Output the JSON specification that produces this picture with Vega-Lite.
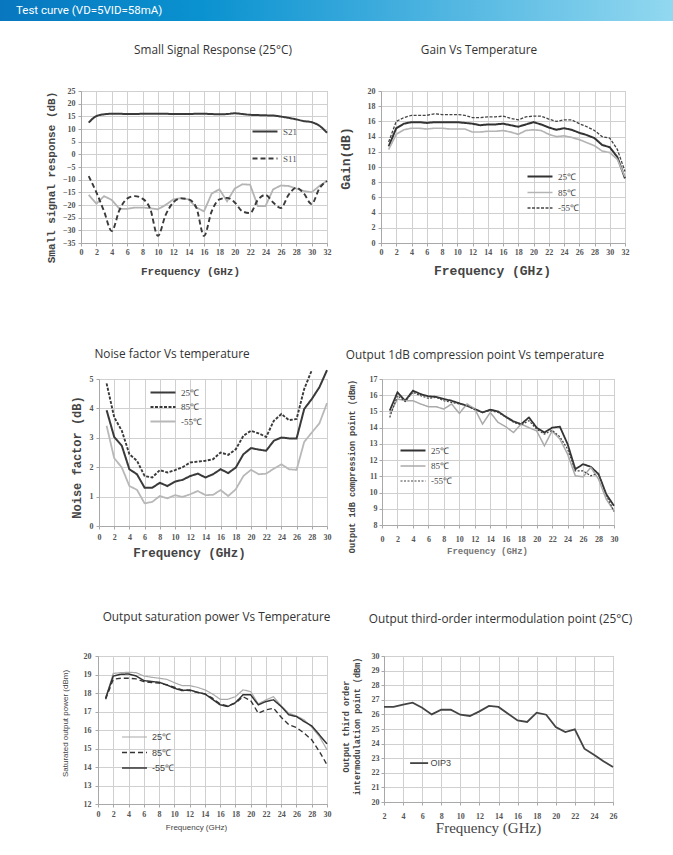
{
"$schema": "https://vega.github.io/schema/vega-lite/v6.json",
"padding": 0,
"background": "white",
"bounds": "flush",
"spacing": 70,
"resolve": {"scale": {"color": "independent", "strokeDash": "independent", "strokeWidth": "independent"}, "legend": {"color": "independent", "strokeDash": "independent", "strokeWidth": "independent"}},
"config": {
  "view": {"stroke": "#a8a8a8", "strokeWidth": 1},
  "axis": {"gridColor": "#d0d0d0", "gridWidth": 1, "domainColor": "#a8a8a8", "tickColor": "#a8a8a8", "tickSize": 3, "labelColor": "#555", "labelFont": "Liberation Serif", "labelFontWeight": "bold", "labelFontSize": 8, "titleColor": "#444", "titleFont": "Liberation Mono", "titleFontWeight": "bold", "labelOverlap": false, "labelFlush": false},
  "legend": {"orient": "none", "symbolType": "M-2,0H2", "symbolSize": 156, "labelFont": "Liberation Serif", "labelFontSize": 9, "labelColor": "#444", "labelOffset": 10.5, "padding": 0},
  "title": {"font": "Open Sans", "fontSize": 11.8, "fontWeight": "normal", "color": "#333", "frame": "group", "anchor": "middle"},
  "line": {"clip": true}
},
"datasets": {
"p1": [
{"f":1,"v":12.5,"s":"S21"},{"f":2,"v":15.1,"s":"S21"},{"f":3,"v":15.8,"s":"S21"},{"f":4,"v":16.0,"s":"S21"},{"f":5,"v":16.0,"s":"S21"},{"f":6,"v":15.9,"s":"S21"},{"f":7,"v":15.9,"s":"S21"},{"f":8,"v":16.0,"s":"S21"},{"f":9,"v":16.0,"s":"S21"},{"f":10,"v":16.0,"s":"S21"},{"f":11,"v":16.0,"s":"S21"},{"f":12,"v":15.9,"s":"S21"},{"f":13,"v":15.9,"s":"S21"},{"f":14,"v":15.9,"s":"S21"},{"f":15,"v":16.0,"s":"S21"},{"f":16,"v":16.0,"s":"S21"},{"f":17,"v":15.9,"s":"S21"},{"f":18,"v":15.8,"s":"S21"},{"f":19,"v":15.9,"s":"S21"},{"f":20,"v":16.2,"s":"S21"},{"f":21,"v":15.9,"s":"S21"},{"f":22,"v":15.6,"s":"S21"},{"f":23,"v":15.5,"s":"S21"},{"f":24,"v":15.4,"s":"S21"},{"f":25,"v":15.3,"s":"S21"},{"f":26,"v":14.9,"s":"S21"},{"f":27,"v":14.4,"s":"S21"},{"f":28,"v":13.8,"s":"S21"},{"f":29,"v":13.1,"s":"S21"},{"f":30,"v":12.7,"s":"S21"},{"f":31,"v":11.3,"s":"S21"},{"f":32,"v":8.5,"s":"S21"},
{"f":1,"v":-8.6,"s":"S11"},{"f":2,"v":-15,"s":"S11"},{"f":3,"v":-22.5,"s":"S11"},{"f":4,"v":-30.3,"s":"S11"},{"f":5,"v":-22,"s":"S11"},{"f":6,"v":-17.5,"s":"S11"},{"f":7,"v":-16.5,"s":"S11"},{"f":8,"v":-17.5,"s":"S11"},{"f":9,"v":-21.5,"s":"S11"},{"f":10,"v":-32.2,"s":"S11"},{"f":11,"v":-24,"s":"S11"},{"f":12,"v":-19,"s":"S11"},{"f":13,"v":-17.4,"s":"S11"},{"f":14,"v":-17.8,"s":"S11"},{"f":15,"v":-21,"s":"S11"},{"f":16,"v":-32.2,"s":"S11"},{"f":17,"v":-22.5,"s":"S11"},{"f":18,"v":-17.8,"s":"S11"},{"f":19,"v":-17.2,"s":"S11"},{"f":20,"v":-19,"s":"S11"},{"f":21,"v":-22.5,"s":"S11"},{"f":22,"v":-23.2,"s":"S11"},{"f":23,"v":-18,"s":"S11"},{"f":24,"v":-16,"s":"S11"},{"f":25,"v":-19,"s":"S11"},{"f":26,"v":-21.2,"s":"S11"},{"f":27,"v":-16,"s":"S11"},{"f":28,"v":-13.2,"s":"S11"},{"f":29,"v":-15.5,"s":"S11"},{"f":30,"v":-19.6,"s":"S11"},{"f":31,"v":-13.5,"s":"S11"},{"f":32,"v":-10.5,"s":"S11"},
{"f":1,"v":-16,"s":"S22"},{"f":2,"v":-19.5,"s":"S22"},{"f":3,"v":-16.5,"s":"S22"},{"f":4,"v":-18,"s":"S22"},{"f":5,"v":-21.5,"s":"S22"},{"f":6,"v":-21.5,"s":"S22"},{"f":7,"v":-21,"s":"S22"},{"f":8,"v":-21,"s":"S22"},{"f":9,"v":-21.3,"s":"S22"},{"f":10,"v":-21.7,"s":"S22"},{"f":11,"v":-20,"s":"S22"},{"f":12,"v":-17.8,"s":"S22"},{"f":13,"v":-17.3,"s":"S22"},{"f":14,"v":-17.8,"s":"S22"},{"f":15,"v":-21,"s":"S22"},{"f":16,"v":-22.5,"s":"S22"},{"f":17,"v":-15.5,"s":"S22"},{"f":18,"v":-13.8,"s":"S22"},{"f":19,"v":-18.5,"s":"S22"},{"f":20,"v":-13.5,"s":"S22"},{"f":21,"v":-11.8,"s":"S22"},{"f":22,"v":-12,"s":"S22"},{"f":23,"v":-20.4,"s":"S22"},{"f":24,"v":-20.4,"s":"S22"},{"f":25,"v":-13.8,"s":"S22"},{"f":26,"v":-12.3,"s":"S22"},{"f":27,"v":-12.5,"s":"S22"},{"f":28,"v":-13.5,"s":"S22"},{"f":29,"v":-14.5,"s":"S22"},{"f":30,"v":-15,"s":"S22"},{"f":31,"v":-12.5,"s":"S22"},{"f":32,"v":-10.5,"s":"S22"}
],
"p2": [
{"f":1,"v":12.7,"s":"25℃"},{"f":2,"v":15.1,"s":"25℃"},{"f":3,"v":15.7,"s":"25℃"},{"f":4,"v":15.9,"s":"25℃"},{"f":5,"v":15.9,"s":"25℃"},{"f":6,"v":15.8,"s":"25℃"},{"f":7,"v":15.9,"s":"25℃"},{"f":8,"v":15.9,"s":"25℃"},{"f":9,"v":15.9,"s":"25℃"},{"f":10,"v":15.9,"s":"25℃"},{"f":11,"v":15.8,"s":"25℃"},{"f":12,"v":15.7,"s":"25℃"},{"f":13,"v":15.5,"s":"25℃"},{"f":14,"v":15.6,"s":"25℃"},{"f":15,"v":15.6,"s":"25℃"},{"f":16,"v":15.7,"s":"25℃"},{"f":17,"v":15.5,"s":"25℃"},{"f":18,"v":15.3,"s":"25℃"},{"f":19,"v":15.6,"s":"25℃"},{"f":20,"v":15.9,"s":"25℃"},{"f":21,"v":15.6,"s":"25℃"},{"f":22,"v":15.2,"s":"25℃"},{"f":23,"v":14.9,"s":"25℃"},{"f":24,"v":15.1,"s":"25℃"},{"f":25,"v":14.9,"s":"25℃"},{"f":26,"v":14.5,"s":"25℃"},{"f":27,"v":14.2,"s":"25℃"},{"f":28,"v":13.8,"s":"25℃"},{"f":29,"v":12.9,"s":"25℃"},{"f":30,"v":12.6,"s":"25℃"},{"f":31,"v":11.3,"s":"25℃"},{"f":32,"v":8.5,"s":"25℃"},
{"f":1,"v":12.3,"s":"85℃"},{"f":2,"v":14.3,"s":"85℃"},{"f":3,"v":14.9,"s":"85℃"},{"f":4,"v":15.1,"s":"85℃"},{"f":5,"v":15.1,"s":"85℃"},{"f":6,"v":15.0,"s":"85℃"},{"f":7,"v":15.1,"s":"85℃"},{"f":8,"v":15.1,"s":"85℃"},{"f":9,"v":15.0,"s":"85℃"},{"f":10,"v":15.0,"s":"85℃"},{"f":11,"v":15.0,"s":"85℃"},{"f":12,"v":14.6,"s":"85℃"},{"f":13,"v":14.6,"s":"85℃"},{"f":14,"v":14.7,"s":"85℃"},{"f":15,"v":14.7,"s":"85℃"},{"f":16,"v":14.8,"s":"85℃"},{"f":17,"v":14.6,"s":"85℃"},{"f":18,"v":14.3,"s":"85℃"},{"f":19,"v":14.8,"s":"85℃"},{"f":20,"v":14.9,"s":"85℃"},{"f":21,"v":14.8,"s":"85℃"},{"f":22,"v":14.3,"s":"85℃"},{"f":23,"v":14.0,"s":"85℃"},{"f":24,"v":14.1,"s":"85℃"},{"f":25,"v":13.9,"s":"85℃"},{"f":26,"v":13.6,"s":"85℃"},{"f":27,"v":13.2,"s":"85℃"},{"f":28,"v":12.8,"s":"85℃"},{"f":29,"v":12.1,"s":"85℃"},{"f":30,"v":11.9,"s":"85℃"},{"f":31,"v":11.0,"s":"85℃"},{"f":32,"v":8.7,"s":"85℃"},
{"f":1,"v":13.3,"s":"-55℃"},{"f":2,"v":16.0,"s":"-55℃"},{"f":3,"v":16.5,"s":"-55℃"},{"f":4,"v":16.8,"s":"-55℃"},{"f":5,"v":16.8,"s":"-55℃"},{"f":6,"v":16.8,"s":"-55℃"},{"f":7,"v":17.0,"s":"-55℃"},{"f":8,"v":16.9,"s":"-55℃"},{"f":9,"v":16.9,"s":"-55℃"},{"f":10,"v":16.9,"s":"-55℃"},{"f":11,"v":16.8,"s":"-55℃"},{"f":12,"v":16.5,"s":"-55℃"},{"f":13,"v":16.5,"s":"-55℃"},{"f":14,"v":16.6,"s":"-55℃"},{"f":15,"v":16.6,"s":"-55℃"},{"f":16,"v":16.7,"s":"-55℃"},{"f":17,"v":16.4,"s":"-55℃"},{"f":18,"v":16.2,"s":"-55℃"},{"f":19,"v":16.6,"s":"-55℃"},{"f":20,"v":16.7,"s":"-55℃"},{"f":21,"v":16.7,"s":"-55℃"},{"f":22,"v":16.3,"s":"-55℃"},{"f":23,"v":16.0,"s":"-55℃"},{"f":24,"v":16.2,"s":"-55℃"},{"f":25,"v":16.2,"s":"-55℃"},{"f":26,"v":15.7,"s":"-55℃"},{"f":27,"v":15.3,"s":"-55℃"},{"f":28,"v":14.8,"s":"-55℃"},{"f":29,"v":14.0,"s":"-55℃"},{"f":30,"v":13.8,"s":"-55℃"},{"f":31,"v":12.3,"s":"-55℃"},{"f":32,"v":9.4,"s":"-55℃"}
],
"p3": [
{"f":1,"v":3.94,"s":"25℃"},{"f":2,"v":3.03,"s":"25℃"},{"f":3,"v":2.73,"s":"25℃"},{"f":4,"v":1.93,"s":"25℃"},{"f":5,"v":1.76,"s":"25℃"},{"f":6,"v":1.3,"s":"25℃"},{"f":7,"v":1.3,"s":"25℃"},{"f":8,"v":1.47,"s":"25℃"},{"f":9,"v":1.36,"s":"25℃"},{"f":10,"v":1.51,"s":"25℃"},{"f":11,"v":1.57,"s":"25℃"},{"f":12,"v":1.7,"s":"25℃"},{"f":13,"v":1.78,"s":"25℃"},{"f":14,"v":1.65,"s":"25℃"},{"f":15,"v":1.76,"s":"25℃"},{"f":16,"v":1.93,"s":"25℃"},{"f":17,"v":1.8,"s":"25℃"},{"f":18,"v":1.99,"s":"25℃"},{"f":19,"v":2.44,"s":"25℃"},{"f":20,"v":2.65,"s":"25℃"},{"f":21,"v":2.6,"s":"25℃"},{"f":22,"v":2.56,"s":"25℃"},{"f":23,"v":2.9,"s":"25℃"},{"f":24,"v":3.01,"s":"25℃"},{"f":25,"v":2.98,"s":"25℃"},{"f":26,"v":2.98,"s":"25℃"},{"f":27,"v":3.98,"s":"25℃"},{"f":28,"v":4.32,"s":"25℃"},{"f":29,"v":4.72,"s":"25℃"},{"f":30,"v":5.3,"s":"25℃"},
{"f":1,"v":4.85,"s":"85℃"},{"f":2,"v":3.7,"s":"85℃"},{"f":3,"v":3.24,"s":"85℃"},{"f":4,"v":2.44,"s":"85℃"},{"f":5,"v":2.22,"s":"85℃"},{"f":6,"v":1.7,"s":"85℃"},{"f":7,"v":1.65,"s":"85℃"},{"f":8,"v":1.9,"s":"85℃"},{"f":9,"v":1.82,"s":"85℃"},{"f":10,"v":1.9,"s":"85℃"},{"f":11,"v":2.0,"s":"85℃"},{"f":12,"v":2.16,"s":"85℃"},{"f":13,"v":2.19,"s":"85℃"},{"f":14,"v":2.22,"s":"85℃"},{"f":15,"v":2.27,"s":"85℃"},{"f":16,"v":2.5,"s":"85℃"},{"f":17,"v":2.42,"s":"85℃"},{"f":18,"v":2.61,"s":"85℃"},{"f":19,"v":3.07,"s":"85℃"},{"f":20,"v":3.24,"s":"85℃"},{"f":21,"v":3.15,"s":"85℃"},{"f":22,"v":3.03,"s":"85℃"},{"f":23,"v":3.58,"s":"85℃"},{"f":24,"v":3.81,"s":"85℃"},{"f":25,"v":3.6,"s":"85℃"},{"f":26,"v":3.64,"s":"85℃"},{"f":27,"v":4.66,"s":"85℃"},{"f":28,"v":5.3,"s":"85℃"},
{"f":1,"v":3.41,"s":"-55℃"},{"f":2,"v":2.31,"s":"-55℃"},{"f":3,"v":1.99,"s":"-55℃"},{"f":4,"v":1.36,"s":"-55℃"},{"f":5,"v":1.23,"s":"-55℃"},{"f":6,"v":0.77,"s":"-55℃"},{"f":7,"v":0.82,"s":"-55℃"},{"f":8,"v":1.02,"s":"-55℃"},{"f":9,"v":0.94,"s":"-55℃"},{"f":10,"v":1.05,"s":"-55℃"},{"f":11,"v":0.99,"s":"-55℃"},{"f":12,"v":1.08,"s":"-55℃"},{"f":13,"v":1.19,"s":"-55℃"},{"f":14,"v":1.05,"s":"-55℃"},{"f":15,"v":1.06,"s":"-55℃"},{"f":16,"v":1.22,"s":"-55℃"},{"f":17,"v":1.02,"s":"-55℃"},{"f":18,"v":1.25,"s":"-55℃"},{"f":19,"v":1.7,"s":"-55℃"},{"f":20,"v":1.91,"s":"-55℃"},{"f":21,"v":1.76,"s":"-55℃"},{"f":22,"v":1.78,"s":"-55℃"},{"f":23,"v":1.95,"s":"-55℃"},{"f":24,"v":2.1,"s":"-55℃"},{"f":25,"v":1.93,"s":"-55℃"},{"f":26,"v":1.91,"s":"-55℃"},{"f":27,"v":2.86,"s":"-55℃"},{"f":28,"v":3.18,"s":"-55℃"},{"f":29,"v":3.49,"s":"-55℃"},{"f":30,"v":4.18,"s":"-55℃"}
],
"p4": [
{"f":1,"v":15.05,"s":"25℃"},{"f":2,"v":16.18,"s":"25℃"},{"f":3,"v":15.66,"s":"25℃"},{"f":4,"v":16.28,"s":"25℃"},{"f":5,"v":16.07,"s":"25℃"},{"f":6,"v":15.93,"s":"25℃"},{"f":7,"v":15.9,"s":"25℃"},{"f":8,"v":15.77,"s":"25℃"},{"f":9,"v":15.66,"s":"25℃"},{"f":10,"v":15.5,"s":"25℃"},{"f":11,"v":15.35,"s":"25℃"},{"f":12,"v":15.15,"s":"25℃"},{"f":13,"v":14.94,"s":"25℃"},{"f":14,"v":15.11,"s":"25℃"},{"f":15,"v":15.0,"s":"25℃"},{"f":16,"v":14.67,"s":"25℃"},{"f":17,"v":14.39,"s":"25℃"},{"f":18,"v":14.22,"s":"25℃"},{"f":19,"v":14.63,"s":"25℃"},{"f":20,"v":14.0,"s":"25℃"},{"f":21,"v":13.7,"s":"25℃"},{"f":22,"v":14.0,"s":"25℃"},{"f":23,"v":14.06,"s":"25℃"},{"f":24,"v":12.99,"s":"25℃"},{"f":25,"v":11.44,"s":"25℃"},{"f":26,"v":11.75,"s":"25℃"},{"f":27,"v":11.59,"s":"25℃"},{"f":28,"v":11.14,"s":"25℃"},{"f":29,"v":9.9,"s":"25℃"},{"f":30,"v":9.18,"s":"25℃"},
{"f":1,"v":14.84,"s":"85℃"},{"f":2,"v":15.77,"s":"85℃"},{"f":3,"v":15.66,"s":"85℃"},{"f":4,"v":15.66,"s":"85℃"},{"f":5,"v":15.46,"s":"85℃"},{"f":6,"v":15.29,"s":"85℃"},{"f":7,"v":15.29,"s":"85℃"},{"f":8,"v":15.15,"s":"85℃"},{"f":9,"v":15.46,"s":"85℃"},{"f":10,"v":14.88,"s":"85℃"},{"f":11,"v":15.46,"s":"85℃"},{"f":12,"v":15.15,"s":"85℃"},{"f":13,"v":14.22,"s":"85℃"},{"f":14,"v":14.94,"s":"85℃"},{"f":15,"v":14.33,"s":"85℃"},{"f":16,"v":14.06,"s":"85℃"},{"f":17,"v":13.7,"s":"85℃"},{"f":18,"v":14.22,"s":"85℃"},{"f":19,"v":14.0,"s":"85℃"},{"f":20,"v":13.8,"s":"85℃"},{"f":21,"v":12.88,"s":"85℃"},{"f":22,"v":13.8,"s":"85℃"},{"f":23,"v":13.3,"s":"85℃"},{"f":24,"v":12.37,"s":"85℃"},{"f":25,"v":11.03,"s":"85℃"},{"f":26,"v":10.97,"s":"85℃"},{"f":27,"v":11.55,"s":"85℃"},{"f":28,"v":10.83,"s":"85℃"},{"f":29,"v":9.59,"s":"85℃"},{"f":30,"v":8.87,"s":"85℃"},
{"f":1,"v":14.63,"s":"-55℃"},{"f":2,"v":15.97,"s":"-55℃"},{"f":3,"v":15.62,"s":"-55℃"},{"f":4,"v":16.18,"s":"-55℃"},{"f":5,"v":15.97,"s":"-55℃"},{"f":6,"v":15.81,"s":"-55℃"},{"f":7,"v":15.87,"s":"-55℃"},{"f":8,"v":15.66,"s":"-55℃"},{"f":9,"v":15.56,"s":"-55℃"},{"f":10,"v":15.46,"s":"-55℃"},{"f":11,"v":15.35,"s":"-55℃"},{"f":12,"v":15.11,"s":"-55℃"},{"f":13,"v":14.94,"s":"-55℃"},{"f":14,"v":15.05,"s":"-55℃"},{"f":15,"v":14.94,"s":"-55℃"},{"f":16,"v":14.67,"s":"-55℃"},{"f":17,"v":14.33,"s":"-55℃"},{"f":18,"v":14.18,"s":"-55℃"},{"f":19,"v":14.43,"s":"-55℃"},{"f":20,"v":13.91,"s":"-55℃"},{"f":21,"v":13.6,"s":"-55℃"},{"f":22,"v":13.84,"s":"-55℃"},{"f":23,"v":13.44,"s":"-55℃"},{"f":24,"v":12.68,"s":"-55℃"},{"f":25,"v":11.34,"s":"-55℃"},{"f":26,"v":11.34,"s":"-55℃"},{"f":27,"v":11.03,"s":"-55℃"},{"f":28,"v":11.18,"s":"-55℃"},{"f":29,"v":9.85,"s":"-55℃"},{"f":30,"v":8.83,"s":"-55℃"}
],
"p5": [
{"f":1,"v":17.72,"s":"25℃"},{"f":2,"v":19.06,"s":"25℃"},{"f":3,"v":19.1,"s":"25℃"},{"f":4,"v":19.12,"s":"25℃"},{"f":5,"v":19.1,"s":"25℃"},{"f":6,"v":18.92,"s":"25℃"},{"f":7,"v":18.85,"s":"25℃"},{"f":8,"v":18.8,"s":"25℃"},{"f":9,"v":18.74,"s":"25℃"},{"f":10,"v":18.56,"s":"25℃"},{"f":11,"v":18.4,"s":"25℃"},{"f":12,"v":18.4,"s":"25℃"},{"f":13,"v":18.31,"s":"25℃"},{"f":14,"v":18.17,"s":"25℃"},{"f":15,"v":17.95,"s":"25℃"},{"f":16,"v":17.66,"s":"25℃"},{"f":17,"v":17.66,"s":"25℃"},{"f":18,"v":17.8,"s":"25℃"},{"f":19,"v":18.17,"s":"25℃"},{"f":20,"v":18.08,"s":"25℃"},{"f":21,"v":17.41,"s":"25℃"},{"f":22,"v":17.63,"s":"25℃"},{"f":23,"v":17.8,"s":"25℃"},{"f":24,"v":17.3,"s":"25℃"},{"f":25,"v":16.91,"s":"25℃"},{"f":26,"v":16.76,"s":"25℃"},{"f":27,"v":16.55,"s":"25℃"},{"f":28,"v":16.15,"s":"25℃"},{"f":29,"v":15.65,"s":"25℃"},{"f":30,"v":14.93,"s":"25℃"},
{"f":1,"v":17.66,"s":"85℃"},{"f":2,"v":18.74,"s":"85℃"},{"f":3,"v":18.8,"s":"85℃"},{"f":4,"v":18.8,"s":"85℃"},{"f":5,"v":18.76,"s":"85℃"},{"f":6,"v":18.62,"s":"85℃"},{"f":7,"v":18.56,"s":"85℃"},{"f":8,"v":18.53,"s":"85℃"},{"f":9,"v":18.44,"s":"85℃"},{"f":10,"v":18.31,"s":"85℃"},{"f":11,"v":18.17,"s":"85℃"},{"f":12,"v":18.13,"s":"85℃"},{"f":13,"v":18.04,"s":"85℃"},{"f":14,"v":17.95,"s":"85℃"},{"f":15,"v":17.72,"s":"85℃"},{"f":16,"v":17.41,"s":"85℃"},{"f":17,"v":17.3,"s":"85℃"},{"f":18,"v":17.45,"s":"85℃"},{"f":19,"v":17.8,"s":"85℃"},{"f":20,"v":17.59,"s":"85℃"},{"f":21,"v":16.91,"s":"85℃"},{"f":22,"v":17.09,"s":"85℃"},{"f":23,"v":17.18,"s":"85℃"},{"f":24,"v":16.69,"s":"85℃"},{"f":25,"v":16.28,"s":"85℃"},{"f":26,"v":16.13,"s":"85℃"},{"f":27,"v":15.83,"s":"85℃"},{"f":28,"v":15.47,"s":"85℃"},{"f":29,"v":14.84,"s":"85℃"},{"f":30,"v":14.12,"s":"85℃"},
{"f":1,"v":17.72,"s":"-55℃"},{"f":2,"v":18.92,"s":"-55℃"},{"f":3,"v":19.01,"s":"-55℃"},{"f":4,"v":19.03,"s":"-55℃"},{"f":5,"v":18.92,"s":"-55℃"},{"f":6,"v":18.67,"s":"-55℃"},{"f":7,"v":18.62,"s":"-55℃"},{"f":8,"v":18.58,"s":"-55℃"},{"f":9,"v":18.44,"s":"-55℃"},{"f":10,"v":18.26,"s":"-55℃"},{"f":11,"v":18.13,"s":"-55℃"},{"f":12,"v":18.17,"s":"-55℃"},{"f":13,"v":18.04,"s":"-55℃"},{"f":14,"v":17.95,"s":"-55℃"},{"f":15,"v":17.66,"s":"-55℃"},{"f":16,"v":17.36,"s":"-55℃"},{"f":17,"v":17.27,"s":"-55℃"},{"f":18,"v":17.48,"s":"-55℃"},{"f":19,"v":17.9,"s":"-55℃"},{"f":20,"v":17.9,"s":"-55℃"},{"f":21,"v":17.36,"s":"-55℃"},{"f":22,"v":17.54,"s":"-55℃"},{"f":23,"v":17.63,"s":"-55℃"},{"f":24,"v":17.27,"s":"-55℃"},{"f":25,"v":16.82,"s":"-55℃"},{"f":26,"v":16.73,"s":"-55℃"},{"f":27,"v":16.46,"s":"-55℃"},{"f":28,"v":16.22,"s":"-55℃"},{"f":29,"v":15.74,"s":"-55℃"},{"f":30,"v":15.25,"s":"-55℃"}
],
"p6": [
{"f":2,"v":26.51,"s":"OIP3"},{"f":3,"v":26.51,"s":"OIP3"},{"f":4,"v":26.67,"s":"OIP3"},{"f":5,"v":26.8,"s":"OIP3"},{"f":6,"v":26.46,"s":"OIP3"},{"f":7,"v":26.0,"s":"OIP3"},{"f":8,"v":26.32,"s":"OIP3"},{"f":9,"v":26.32,"s":"OIP3"},{"f":10,"v":25.98,"s":"OIP3"},{"f":11,"v":25.89,"s":"OIP3"},{"f":12,"v":26.21,"s":"OIP3"},{"f":13,"v":26.58,"s":"OIP3"},{"f":14,"v":26.51,"s":"OIP3"},{"f":15,"v":26.05,"s":"OIP3"},{"f":16,"v":25.59,"s":"OIP3"},{"f":17,"v":25.48,"s":"OIP3"},{"f":18,"v":26.12,"s":"OIP3"},{"f":19,"v":25.98,"s":"OIP3"},{"f":20,"v":25.14,"s":"OIP3"},{"f":21,"v":24.79,"s":"OIP3"},{"f":22,"v":24.98,"s":"OIP3"},{"f":23,"v":23.65,"s":"OIP3"},{"f":24,"v":23.24,"s":"OIP3"},{"f":25,"v":22.79,"s":"OIP3"},{"f":26,"v":22.4,"s":"OIP3"}
]
},
"vconcat": [
{
  "width": 673, "height": 21,
  "data": {"values": [{"a": 0, "b": 1, "label": "Test curve (VD=5VID=58mA)"}]},
  "view": {"stroke": null},
  "layer": [
    {"mark": {"type": "rect", "color": {"gradient": "linear", "x1": 0, "x2": 1, "y1": 0, "y2": 0, "stops": [{"offset": 0, "color": "#0877bf"}, {"offset": 0.3, "color": "#0a92d0"}, {"offset": 0.55, "color": "#3aaadc"}, {"offset": 1, "color": "#92d8f0"}]}},
     "encoding": {"x": {"field": "a", "type": "quantitative", "scale": {"domain": [0, 1]}, "axis": null}, "x2": {"field": "b"}}},
    {"mark": {"type": "text", "align": "left", "baseline": "middle", "dx": 16, "color": "white", "font": "Roboto", "fontSize": 11.5},
     "encoding": {"x": {"field": "a", "type": "quantitative"}, "text": {"field": "label"}}}
  ]
},
{
  "bounds": "flush", "spacing": 288,
  "resolve": {"scale": {"color": "independent", "strokeDash": "independent", "strokeWidth": "independent"}, "legend": {"color": "independent", "strokeDash": "independent", "strokeWidth": "independent"}},
  "vconcat": [
    {
      "bounds": "flush", "spacing": 54,
      "resolve": {"scale": {"color": "independent", "strokeDash": "independent", "strokeWidth": "independent"}, "legend": {"color": "independent", "strokeDash": "independent", "strokeWidth": "independent"}},
      "hconcat": [
        {"width": 27, "height": 1, "data": {"values": []}, "mark": "point", "view": {"stroke": null}},
        {
          "width": 246, "height": 152,
          "title": {"text": "Small Signal Response (25°C)", "dx": 9, "offset": 30},
          "data": {"name": "p1"},
          "encoding": {
            "x": {"field": "f", "type": "quantitative", "scale": {"domain": [0, 32], "nice": false}, "axis": {"values": [0,2,4,6,8,10,12,14,16,18,20,22,24,26,28,30,32], "title": "Frequency (GHz)", "titleFontSize": 11, "titlePadding": 9, "labelPadding": 2, "titleX": 109}},
            "y": {"field": "v", "type": "quantitative", "scale": {"domain": [-35, 25], "nice": false}, "axis": {"values": [-35,-30,-25,-20,-15,-10,-5,0,5,10,15,20,25], "title": "Small signal response (dB)", "titleFontSize": 11, "titlePadding": 6, "labelPadding": 3, "titleY": 86}},
            "color": {"field": "s", "type": "nominal", "scale": {"domain": ["S21","S11","S22"], "range": ["#3a3a3a","#3a3a3a","#b4b4b4"]}, "legend": {"title": null, "values": ["S21","S11"], "legendX": 176.5, "legendY": 33, "rowPadding": 14, "labelColor": "#555"}},
            "strokeDash": {"field": "s", "type": "nominal", "scale": {"domain": ["S21","S11","S22"], "range": [[1,0],[5,3],[1,0]]}, "legend": {"title": null, "values": ["S21","S11"], "legendX": 176.5, "legendY": 33, "rowPadding": 14, "labelColor": "#555"}},
            "strokeWidth": {"field": "s", "type": "nominal", "scale": {"domain": ["S21","S11","S22"], "range": [2,1.8,1.2]}, "legend": {"title": null, "values": ["S21","S11"], "legendX": 176.5, "legendY": 33, "rowPadding": 14, "labelColor": "#555"}}
          },
          "layer": [
            {"transform": [{"filter": "datum.s === 'S22'"}], "mark": {"type": "line"}},
            {"transform": [{"filter": "datum.s !== 'S22'"}], "mark": {"type": "line", "interpolate": "monotone"}}
          ]
        },
        {
          "width": 244, "height": 152,
          "title": {"text": "Gain Vs Temperature", "dx": -24, "offset": 30},
          "data": {"name": "p2"},
          "mark": {"type": "line"},
          "encoding": {
            "x": {"field": "f", "type": "quantitative", "scale": {"domain": [0, 32], "nice": false}, "axis": {"values": [0,2,4,6,8,10,12,14,16,18,20,22,24,26,28,30,32], "title": "Frequency (GHz)", "titleFontSize": 13, "titlePadding": 8, "labelPadding": 2, "titleX": 111}},
            "y": {"field": "v", "type": "quantitative", "scale": {"domain": [0, 20], "nice": false}, "axis": {"values": [0,2,4,6,8,10,12,14,16,18,20], "title": "Gain(dB)", "titleFontSize": 13, "titlePadding": 15, "labelPadding": 3, "titleY": 67}},
            "color": {"field": "s", "type": "nominal", "scale": {"domain": ["25℃","85℃","-55℃"], "range": ["#333333","#b4b4b4","#444444"]}, "legend": {"title": null, "legendX": 151.5, "legendY": 78, "rowPadding": 3}},
            "strokeDash": {"field": "s", "type": "nominal", "scale": {"domain": ["25℃","85℃","-55℃"], "range": [[1,0],[1,0],[3,1.5]]}, "legend": {"title": null, "legendX": 151.5, "legendY": 78, "rowPadding": 3}},
            "strokeWidth": {"field": "s", "type": "nominal", "scale": {"domain": ["25℃","85℃","-55℃"], "range": [2,1.3,1.5]}, "legend": {"title": null, "legendX": 151.5, "legendY": 78, "rowPadding": 3}}
          }
        }
      ]
    },
    {
      "bounds": "flush", "spacing": 277,
      "resolve": {"scale": {"color": "independent", "strokeDash": "independent", "strokeWidth": "independent"}, "legend": {"color": "independent", "strokeDash": "independent", "strokeWidth": "independent"}},
      "vconcat": [
        {
          "bounds": "flush", "spacing": 55,
          "resolve": {"scale": {"color": "independent", "strokeDash": "independent", "strokeWidth": "independent"}, "legend": {"color": "independent", "strokeDash": "independent", "strokeWidth": "independent"}},
          "hconcat": [
            {"width": 44, "height": 1, "data": {"values": []}, "mark": "point", "view": {"stroke": null}},
            {
              "width": 228, "height": 147,
              "title": {"text": "Noise factor Vs temperature", "dx": -41, "offset": 5},
              "data": {"name": "p3"},
              "mark": {"type": "line"},
              "encoding": {
                "x": {"field": "f", "type": "quantitative", "scale": {"domain": [0, 30], "nice": false}, "axis": {"values": [0,2,4,6,8,10,12,14,16,18,20,22,24,26,28,30], "title": "Frequency (GHz)", "titleFontSize": 12.5, "titlePadding": 5, "labelPadding": 4, "titleX": 90}},
                "y": {"field": "v", "type": "quantitative", "scale": {"domain": [0, 5], "nice": false}, "axis": {"values": [0,1,2,3,4,5], "title": "Noise factor (dB)", "titleFontSize": 12, "titlePadding": 6, "labelPadding": 3, "titleY": 78}},
                "color": {"field": "s", "type": "nominal", "scale": {"domain": ["25℃","85℃","-55℃"], "range": ["#3a3a3a","#3a3a3a","#b8b8b8"]}, "legend": {"title": null, "legendX": 56.5, "legendY": 6, "rowPadding": 1.5}},
                "strokeDash": {"field": "s", "type": "nominal", "scale": {"domain": ["25℃","85℃","-55℃"], "range": [[1,0],[3,1.5],[1,0]]}, "legend": {"title": null, "legendX": 56.5, "legendY": 6, "rowPadding": 1.5}},
                "strokeWidth": {"field": "s", "type": "nominal", "scale": {"domain": ["25℃","85℃","-55℃"], "range": [2,1.8,1.3]}, "legend": {"title": null, "legendX": 56.5, "legendY": 6, "rowPadding": 1.5}}
              }
            },
            {
              "width": 232, "height": 146,
              "title": {"text": "Output 1dB compression point Vs temperature", "dx": -23, "offset": 13},
              "data": {"name": "p4"},
              "mark": {"type": "line"},
              "encoding": {
                "x": {"field": "f", "type": "quantitative", "scale": {"domain": [0, 30], "nice": false}, "axis": {"values": [0,2,4,6,8,10,12,14,16,18,20,22,24,26,28,30], "title": "Frequency (GHz)", "titleFontSize": 9, "titleColor": "#777", "titlePadding": 3, "labelPadding": 7, "titleX": 105}},
                "y": {"field": "v", "type": "quantitative", "scale": {"domain": [8, 17], "nice": false}, "axis": {"values": [8,9,10,11,12,13,14,15,16,17], "title": "Output 1dB compression point (dBm)", "titleFontSize": 8.5, "titlePadding": 13, "labelPadding": 2, "titleY": 87}},
                "color": {"field": "s", "type": "nominal", "scale": {"domain": ["25℃","85℃","-55℃"], "range": ["#333333","#aaaaaa","#444444"]}, "legend": {"title": null, "legendX": 23.5, "legendY": 64, "rowPadding": 3}},
                "strokeDash": {"field": "s", "type": "nominal", "scale": {"domain": ["25℃","85℃","-55℃"], "range": [[1,0],[1,0],[2,1.5]]}, "legend": {"title": null, "legendX": 23.5, "legendY": 64, "rowPadding": 3}},
                "strokeWidth": {"field": "s", "type": "nominal", "scale": {"domain": ["25℃","85℃","-55℃"], "range": [1.8,1.2,1.3]}, "legend": {"title": null, "legendX": 23.5, "legendY": 64, "rowPadding": 3}}
              }
            }
          ]
        },
        {
          "bounds": "flush", "spacing": 57,
          "resolve": {"scale": {"color": "independent", "strokeDash": "independent", "strokeWidth": "independent"}, "legend": {"color": "independent", "strokeDash": "independent", "strokeWidth": "independent"}},
          "hconcat": [
            {"width": 41, "height": 1, "data": {"values": []}, "mark": "point", "view": {"stroke": null}},
            {
              "width": 229, "height": 148,
              "title": {"text": "Output saturation power Vs Temperature", "dx": 4, "offset": 28},
              "data": {"name": "p5"},
              "mark": {"type": "line"},
              "encoding": {
                "x": {"field": "f", "type": "quantitative", "scale": {"domain": [0, 30], "nice": false}, "axis": {"values": [0,2,4,6,8,10,12,14,16,18,20,22,24,26,28,30], "title": "Frequency (GHz)", "titleFont": "Liberation Sans", "titleFontWeight": "normal", "titleFontSize": 8, "titlePadding": 5, "labelPadding": 3, "titleX": 98}},
                "y": {"field": "v", "type": "quantitative", "scale": {"domain": [12, 20], "nice": false}, "axis": {"values": [12,13,14,15,16,17,18,19,20], "title": "Saturated output power (dBm)", "titleFont": "Liberation Sans", "titleFontWeight": "normal", "titleFontSize": 8, "titlePadding": 14, "labelPadding": 4, "titleY": 67}},
                "color": {"field": "s", "type": "nominal", "scale": {"domain": ["25℃","85℃","-55℃"], "range": ["#aaaaaa","#333333","#333333"]}, "legend": {"title": null, "legendX": 29.5, "legendY": 74, "rowPadding": 3.5, "labelFont": "Liberation Sans"}},
                "strokeDash": {"field": "s", "type": "nominal", "scale": {"domain": ["25℃","85℃","-55℃"], "range": [[1,0],[5,3],[1,0]]}, "legend": {"title": null, "legendX": 29.5, "legendY": 74, "rowPadding": 3.5, "labelFont": "Liberation Sans"}},
                "strokeWidth": {"field": "s", "type": "nominal", "scale": {"domain": ["25℃","85℃","-55℃"], "range": [1.2,1.5,2]}, "legend": {"title": null, "legendX": 29.5, "legendY": 74, "rowPadding": 3.5, "labelFont": "Liberation Sans"}}
              }
            },
            {
              "width": 229, "height": 146,
              "title": {"text": "Output third-order intermodulation point (25°C)", "dx": 2, "offset": 26},
              "data": {"name": "p6"},
              "mark": {"type": "line", "strokeWidth": 1.8},
              "encoding": {
                "x": {"field": "f", "type": "quantitative", "scale": {"domain": [2, 26], "nice": false}, "axis": {"values": [2,4,6,8,10,12,14,16,18,20,22,24,26], "title": "Frequency (GHz)", "titleFont": "Liberation Serif", "titleFontWeight": "normal", "titleFontSize": 15, "titleColor": "#444", "titlePadding": 0, "labelPadding": 7, "titleX": 104}},
                "y": {"field": "v", "type": "quantitative", "scale": {"domain": [20, 30], "nice": false}, "axis": {"values": [20,21,22,23,24,25,26,27,28,29,30], "title": ["Output third order", "intermodulation point (dBm)"], "titleFontSize": 8.5, "titlePadding": 10, "labelPadding": 2, "titleY": 70}},
                "color": {"field": "s", "type": "nominal", "scale": {"domain": ["OIP3"], "range": ["#444444"]}, "legend": {"title": null, "legendX": 29.6, "legendY": 101.6, "symbolSize": 81, "labelOffset": 6, "symbolStrokeWidth": 1.8, "labelFont": "Liberation Sans"}}
              }
            }
          ]
        }
      ]
    }
  ]
}
]
}
